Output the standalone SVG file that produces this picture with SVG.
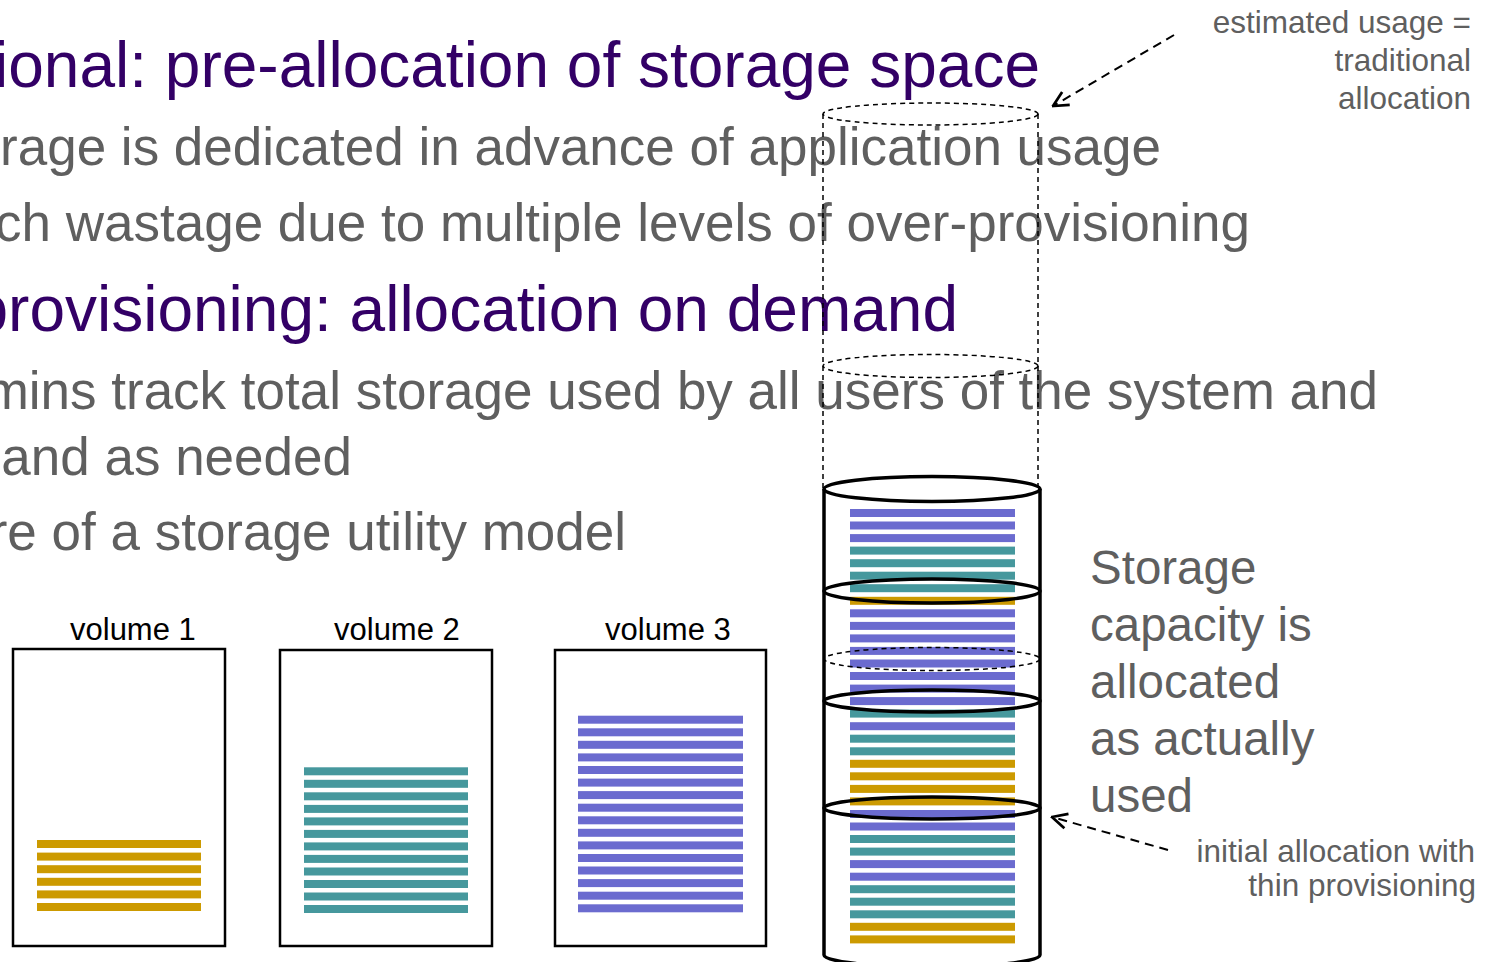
<svg xmlns="http://www.w3.org/2000/svg" width="1491" height="962" viewBox="0 0 1491 962">
<style>
.title{font-family:"Liberation Sans",Arial,sans-serif;font-size:64px;fill:#330066}
.body{font-family:"Liberation Sans",Arial,sans-serif;font-size:53px;fill:#5f5f5f}
.side{font-family:"Liberation Sans",Arial,sans-serif;font-size:47.5px;fill:#5f5f5f}
.note{font-family:"Liberation Sans",Arial,sans-serif;font-size:31.5px;fill:#5f5f5f}
.vlabel{font-family:"Liberation Sans",Arial,sans-serif;font-size:31px;fill:#000}
.box{fill:#fff;stroke:#000;stroke-width:2.5}
.P{fill:#6b6bcf}.T{fill:#46989d}.G{fill:#cc9a00}
.solid{fill:none;stroke:#000;stroke-width:3.5}
.dash{fill:none;stroke:#000;stroke-width:1.5;stroke-dasharray:5 4}
.conn{fill:none;stroke:#000;stroke-width:2;stroke-dasharray:9 6}
</style>
<defs>
<marker id="open" viewBox="0 0 12 12" refX="11" refY="6" markerWidth="18" markerHeight="18" markerUnits="userSpaceOnUse" orient="auto">
<path d="M1,1 L11,6 L1,11" fill="none" stroke="#000" stroke-width="1.8"/>
</marker>
</defs>
<rect width="1491" height="962" fill="#fff"/>

<g id="text-block">
<text class="title" x="1040" y="87" text-anchor="end">ional: pre-allocation of storage space</text>
<text class="body" x="1161" y="165" text-anchor="end">rage is dedicated in advance of application usage</text>
<text class="body" x="1250" y="241" text-anchor="end">ch wastage due to multiple levels of over-provisioning</text>
<text class="title" x="958" y="331" text-anchor="end">provisioning: allocation on demand</text>
<text class="body" x="1378" y="409" text-anchor="end">mins track total storage used by all users of the system and</text>
<text class="body" x="352" y="475" text-anchor="end">and as needed</text>
<text class="body" x="626" y="550" text-anchor="end">re of a storage utility model</text>
</g>

<g id="volume1">
<text class="vlabel" x="70" y="640">volume 1</text>
<rect class="box" x="13" y="649" width="212" height="297"/>
<rect class="G" x="37" y="840" width="164" height="8"/>
<rect class="G" x="37" y="852.6" width="164" height="8"/>
<rect class="G" x="37" y="865.2" width="164" height="8"/>
<rect class="G" x="37" y="877.8" width="164" height="8"/>
<rect class="G" x="37" y="890.4" width="164" height="8"/>
<rect class="G" x="37" y="903" width="164" height="8"/>
</g>

<g id="volume2">
<text class="vlabel" x="334" y="640">volume 2</text>
<rect class="box" x="280" y="650" width="212" height="296"/>
<rect class="T" x="304" y="767.3" width="164" height="8"/>
<rect class="T" x="304" y="779.8" width="164" height="8"/>
<rect class="T" x="304" y="792.3" width="164" height="8"/>
<rect class="T" x="304" y="804.9" width="164" height="8"/>
<rect class="T" x="304" y="817.4" width="164" height="8"/>
<rect class="T" x="304" y="829.9" width="164" height="8"/>
<rect class="T" x="304" y="842.4" width="164" height="8"/>
<rect class="T" x="304" y="854.9" width="164" height="8"/>
<rect class="T" x="304" y="867.5" width="164" height="8"/>
<rect class="T" x="304" y="880" width="164" height="8"/>
<rect class="T" x="304" y="892.5" width="164" height="8"/>
<rect class="T" x="304" y="905" width="164" height="8"/>
</g>

<g id="volume3">
<text class="vlabel" x="605" y="640">volume 3</text>
<rect class="box" x="555" y="650" width="211" height="296"/>
<rect class="P" x="578" y="715.7" width="165" height="8"/>
<rect class="P" x="578" y="728.3" width="165" height="8"/>
<rect class="P" x="578" y="740.8" width="165" height="8"/>
<rect class="P" x="578" y="753.4" width="165" height="8"/>
<rect class="P" x="578" y="766" width="165" height="8"/>
<rect class="P" x="578" y="778.6" width="165" height="8"/>
<rect class="P" x="578" y="791.1" width="165" height="8"/>
<rect class="P" x="578" y="803.7" width="165" height="8"/>
<rect class="P" x="578" y="816.3" width="165" height="8"/>
<rect class="P" x="578" y="828.8" width="165" height="8"/>
<rect class="P" x="578" y="841.4" width="165" height="8"/>
<rect class="P" x="578" y="854" width="165" height="8"/>
<rect class="P" x="578" y="866.5" width="165" height="8"/>
<rect class="P" x="578" y="879.1" width="165" height="8"/>
<rect class="P" x="578" y="891.7" width="165" height="8"/>
<rect class="P" x="578" y="904.3" width="165" height="8"/>
</g>

<g id="estimated-cylinder">
<ellipse class="dash" cx="930.5" cy="114" rx="107.5" ry="11"/>
<ellipse class="dash" cx="930.5" cy="366" rx="107.5" ry="11.5"/>
<line class="dash" x1="823" y1="114" x2="823" y2="489"/>
<line class="dash" x1="1038" y1="114" x2="1038" y2="489"/>
</g>

<g id="thin-cylinder">
<line class="solid" x1="824" y1="489" x2="824" y2="955"/>
<line class="solid" x1="1040" y1="489" x2="1040" y2="955"/>
<path class="solid" d="M824,955 A108,12 0 0 0 1040,955"/>
<rect class="P" x="850" y="509" width="165" height="8"/>
<rect class="P" x="850" y="521.5" width="165" height="8"/>
<rect class="P" x="850" y="534.1" width="165" height="8"/>
<rect class="T" x="850" y="546.6" width="165" height="8"/>
<rect class="T" x="850" y="559.2" width="165" height="8"/>
<rect class="T" x="850" y="571.7" width="165" height="8"/>
<rect class="T" x="850" y="584.2" width="165" height="8"/>
<rect class="G" x="850" y="596.8" width="165" height="8"/>
<rect class="P" x="850" y="609.3" width="165" height="8"/>
<rect class="P" x="850" y="621.9" width="165" height="8"/>
<rect class="P" x="850" y="634.4" width="165" height="8"/>
<rect class="P" x="850" y="646.9" width="165" height="8"/>
<rect class="P" x="850" y="659.5" width="165" height="8"/>
<rect class="P" x="850" y="672" width="165" height="8"/>
<rect class="P" x="850" y="684.6" width="165" height="8"/>
<rect class="P" x="850" y="697.1" width="165" height="8"/>
<rect class="T" x="850" y="709.6" width="165" height="8"/>
<rect class="P" x="850" y="722.2" width="165" height="8"/>
<rect class="T" x="850" y="734.7" width="165" height="8"/>
<rect class="T" x="850" y="747.3" width="165" height="8"/>
<rect class="G" x="850" y="759.8" width="165" height="8"/>
<rect class="G" x="850" y="772.3" width="165" height="8"/>
<rect class="G" x="850" y="784.9" width="165" height="8"/>
<rect class="G" x="850" y="797.4" width="165" height="8"/>
<rect class="P" x="850" y="810" width="165" height="8"/>
<rect class="P" x="850" y="822.5" width="165" height="8"/>
<rect class="T" x="850" y="835" width="165" height="8"/>
<rect class="T" x="850" y="847.6" width="165" height="8"/>
<rect class="P" x="850" y="860.1" width="165" height="8"/>
<rect class="P" x="850" y="872.7" width="165" height="8"/>
<rect class="T" x="850" y="885.2" width="165" height="8"/>
<rect class="T" x="850" y="897.7" width="165" height="8"/>
<rect class="T" x="850" y="910.3" width="165" height="8"/>
<rect class="G" x="850" y="922.8" width="165" height="8"/>
<rect class="G" x="850" y="935.4" width="165" height="8"/>
<ellipse class="solid" cx="932" cy="489" rx="108" ry="12.5"/>
<ellipse class="solid" cx="932" cy="591" rx="108" ry="12"/>
<ellipse class="dash" cx="932" cy="659" rx="108" ry="11.5"/>
<ellipse class="solid" cx="932" cy="701" rx="108" ry="11"/>
<ellipse class="solid" cx="932" cy="808" rx="108" ry="11"/>
</g>

<g id="side-label">
<text class="side" x="1090" y="584">Storage</text>
<text class="side" x="1090" y="641">capacity is</text>
<text class="side" x="1090" y="698">allocated</text>
<text class="side" x="1090" y="755">as actually</text>
<text class="side" x="1090" y="812">used</text>
</g>

<g id="note-estimated">
<text class="note" x="1471" y="33" text-anchor="end">estimated usage =</text>
<text class="note" x="1471" y="71" text-anchor="end">traditional</text>
<text class="note" x="1471" y="109" text-anchor="end">allocation</text>
</g>

<g id="note-initial">
<text class="note" x="1475" y="862" text-anchor="end">initial allocation with</text>
<text class="note" x="1476" y="896" text-anchor="end">thin provisioning</text>
</g>

<g id="connectors">
<line class="conn" x1="1174" y1="35" x2="1053" y2="106" marker-end="url(#open)"/>
<line class="conn" x1="1168" y1="850" x2="1052" y2="817" marker-end="url(#open)"/>
</g>
</svg>
